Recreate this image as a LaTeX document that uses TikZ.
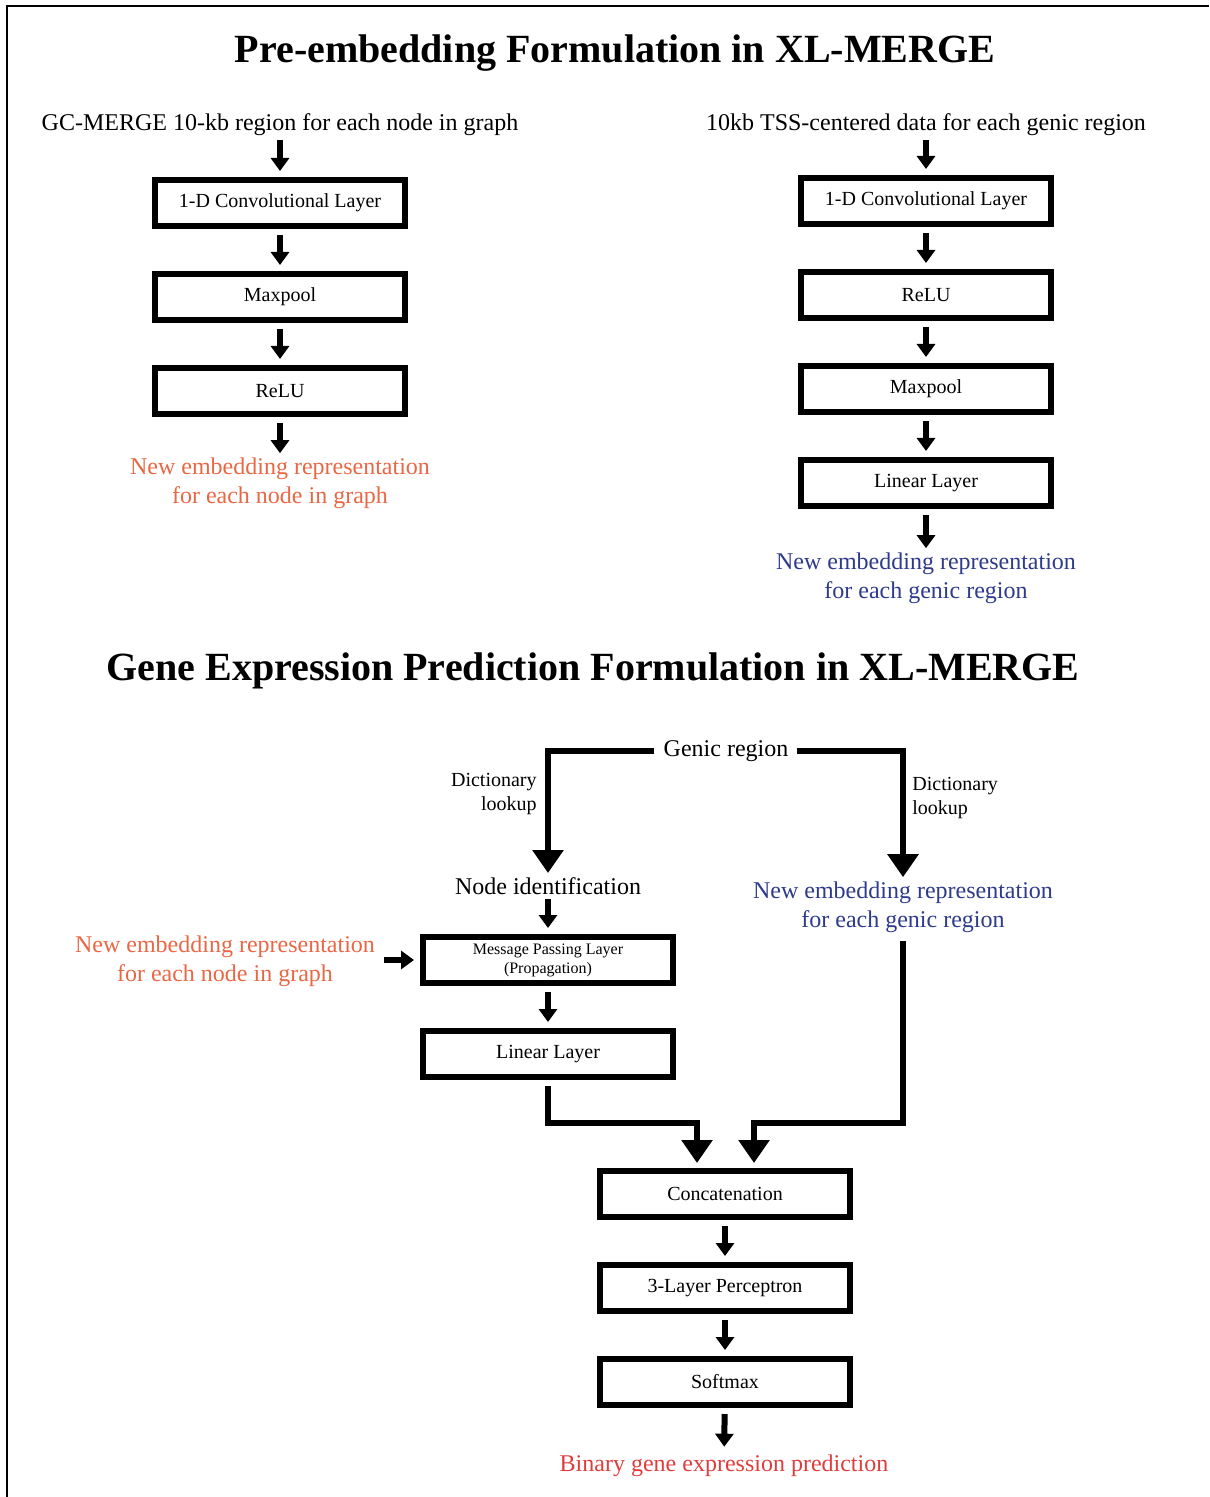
\documentclass[tikz,border=0pt]{standalone}
\usepackage{fontspec}
\setmainfont{Liberation Serif}
\usetikzlibrary{arrows.meta,positioning}
\definecolor{embOrange}{RGB}{233,103,68}
\definecolor{embBlue}{RGB}{46,58,140}
\definecolor{predRed}{RGB}{224,60,60}

\begin{document}
\begin{tikzpicture}[x=0.5pt,y=-0.5pt,node distance=21pt,
  layer/.style={draw,line width=3pt,minimum width=125pt,minimum height=23pt,inner sep=0pt,font=\fontsize{10}{12}\selectfont},
  txt/.style={inner sep=2pt,align=center,font=\fontsize{12}{14.5}\selectfont},
  small/.style={inner sep=2pt,font=\fontsize{10}{12}\selectfont},
  ttl/.style={font=\fontsize{20}{24}\selectfont\bfseries},
  arr/.style={line width=3pt,-{Triangle[width=9pt,length=6.5pt]},shorten <=3pt,shorten >=3pt},
  fat/.style={line width=3pt,-{Triangle[width=15pt,length=11.5pt]}}]

\useasboundingbox (0,0) rectangle (1209,1497);
\draw[line width=1pt] (7,1497) -- (7,6) -- (1209,6);

% pre-embedding part
\node[ttl] (t1) at (615,53) {Pre-embedding Formulation in XL-MERGE};

\node[txt] (gin) at (280,125) {GC-MERGE 10-kb region for each node in graph};
\node[layer] (gconv) at (280,203) {1-D Convolutional Layer};
\node[layer,below=of gconv] (gpool) {Maxpool};
\node[layer,below=of gpool] (grelu) {ReLU};
\node[txt,text=embOrange] (gout) at (280,483) {New embedding representation\\for each node in graph};

\node[txt] (tin) at (926,125) {10kb TSS-centered data for each genic region};
\node[layer] (tconv) at (926,201) {1-D Convolutional Layer};
\node[layer,below=of tconv] (trelu) {ReLU};
\node[layer,below=of trelu] (tpool) {Maxpool};
\node[layer,below=of tpool] (tlin) {Linear Layer};
\node[txt,text=embBlue] (tout) at (926,578) {New embedding representation\\for each genic region};

\draw[arr,shorten <=0pt] (gin) -- (gconv);
\draw[arr] (gconv) -- (gpool);
\draw[arr] (gpool) -- (grelu);
\draw[arr,shorten >=0pt] (grelu) -- (gout);

\draw[arr,shorten <=0pt] (tin) -- (tconv);
\draw[arr] (tconv) -- (trelu);
\draw[arr] (trelu) -- (tpool);
\draw[arr] (tpool) -- (tlin);
\draw[arr,shorten >=0pt] (tlin) -- (tout);

% prediction part
\node[ttl] (t2) at (593,671) {Gene Expression Prediction Formulation in XL-MERGE};

\node[txt] (gr) at (726,751) {Genic region};
\node[txt] (nid) at (548,886) {Node identification};
\node[small,align=right,anchor=east] (dl) at (541,794) {Dictionary\\lookup};
\node[small,align=left,anchor=west] (dr) at (908,798) {Dictionary\\lookup};
\node[txt,text=embBlue] (gemb) at (903,907) {New embedding representation\\for each genic region};
\node[layer,font=\fontsize{8}{9.5}\selectfont,align=center] (mpl) at (548,960) {Message Passing Layer\\(Propagation)};
\node[txt,text=embOrange] (nemb) at (225,961) {New embedding representation\\for each node in graph};
\node[layer,below=of mpl] (blin) {Linear Layer};
\node[layer] (cat) at (725,1194) {Concatenation};
\node[layer,below=of cat] (mlp) {3-Layer Perceptron};
\node[layer,below=of mlp] (smax) {Softmax};
\node[txt,text=predRed] (pred) at (724,1466) {Binary gene expression prediction};
\coordinate (jn) at (725,1123);

\draw[fat,shorten <=2.5pt] (gr.west) -| (nid.north);
\draw[fat,shorten <=2pt] (gr.east) -| (gemb.north);
\draw[arr,shorten <=0pt] (nid) -- (mpl);
\draw[arr,shorten <=2.5pt] (nemb.east |- mpl.west) -- (mpl.west);
\draw[arr] (mpl) -- (blin);
\draw[fat,shorten <=3pt,shorten >=2.5pt] (blin.south) -- (blin.south |- jn) -| ([xshift=-14pt]cat.north);
\draw[fat,shorten <=2pt,shorten >=2.5pt] (gemb.south) -- (gemb.south |- jn) -| ([xshift=14.5pt]cat.north);
\draw[arr] (cat) -- (mlp);
\draw[arr] (mlp) -- (smax);
\draw[arr,shorten >=2pt] (smax) -- (pred);
\end{tikzpicture}
\end{document}
